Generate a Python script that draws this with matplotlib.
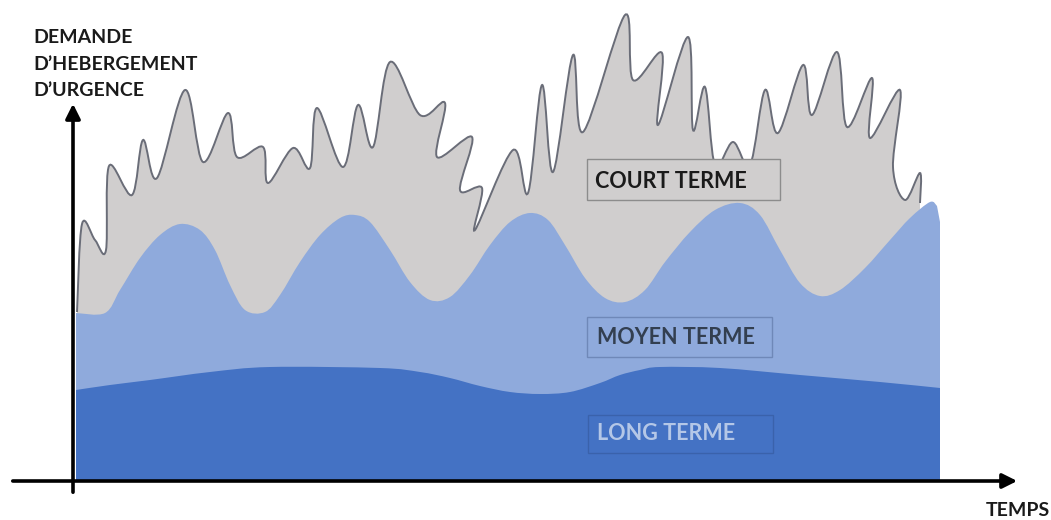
"""
Demande d'hebergement d'urgence : court, moyen et long terme
"""
import numpy as np
import matplotlib
matplotlib.use("Agg")
import matplotlib.pyplot as plt
from matplotlib.patches import Rectangle, PathPatch
from matplotlib.path import Path

plt.rcParams['font.family'] = ['Lato', 'DejaVu Sans']

# Court terme (gray zigzag) : time, demand
court_t = [4, 9, 22, 33, 36, 59, 70, 84, 112, 130, 155, 164, 190, 195, 220, 237,
           244, 270, 285, 300, 317, 347, 372, 364, 399, 387, 409, 402, 440, 455,
           469, 480, 500, 510, 552, 560, 589, 585, 615, 620, 632, 642, 660, 677,
           692, 705, 730, 739, 764, 774, 799, 797, 827, 820, 832, 847, 847]
court_d = [169, 257, 241, 231, 315, 286, 341, 303, 391, 319, 368, 324, 334, 298, 333, 313,
           373, 314, 376, 334, 419, 366, 378, 324, 344, 291, 293, 251, 331, 288,
           396, 309, 426, 349, 466, 401, 428, 356, 444, 351, 394, 316, 339, 316,
           391, 348, 416, 366, 429, 354, 403, 343, 391, 314, 281, 308, 278]

# Moyen terme (medium blue waves)
moyen_t = [3, 32, 47, 67, 87, 107, 127, 142, 157, 172, 192, 207, 227, 247, 267, 282,
           297, 317, 337, 357, 377, 397, 417, 437, 457, 475, 492, 512, 532, 552,
           572, 592, 617, 642, 667, 687, 707, 727, 747, 767, 792, 817, 837, 857,
           864]
moyen_d = [168, 168, 191, 223, 246, 257, 251, 231, 196, 171, 169, 186, 219, 246, 263, 266,
           259, 231, 199, 181, 184, 206, 236, 259, 268, 261, 236, 203, 183, 179,
           191, 219, 249, 271, 278, 266, 231, 198, 185, 191, 213, 241, 263, 279,
           275]
moyen_edge_t = [867, 867]
moyen_edge_d = [259, 156]

# Long terme (dark blue base)
long_t = [3, 37, 77, 137, 197, 307, 347, 377, 407, 437, 467, 497, 527, 547, 567,
          587, 647, 727, 807, 867]
long_d = [91, 96, 101, 109, 114, 113, 109, 103, 95, 89, 87, 89, 98, 106, 111,
          114, 113, 106, 99, 93]

labels = ["COURT TERME", "MOYEN TERME", "LONG TERME"]

GRAY = "#d0cece"
MID = "#8faadc"
DARK = "#4472c4"


def smooth(t, d):
    """Catmull-Rom curve through the points, as bezier vertices/codes."""
    p = np.column_stack([t, d]).astype(float)
    ext = np.vstack([p[0], p, p[-1]])
    verts = [p[0]]
    codes = [Path.MOVETO]
    for i in range(len(p) - 1):
        p0, p1, p2, p3 = ext[i], ext[i + 1], ext[i + 2], ext[i + 3]
        verts += [p1 + (p2 - p0) / 6, p2 - (p3 - p1) / 6, p2]
        codes += [Path.CURVE4] * 3
    return verts, codes


def area(ax, t, d, color, edge_t=(), edge_d=()):
    verts, codes = smooth(t, d)
    extra_t = list(edge_t)
    extra_d = list(edge_d)
    last_t = extra_t[-1] if extra_t else t[-1]
    for et, ed in zip(extra_t + [last_t, t[0]], extra_d + [0, 0]):
        verts.append((et, ed))
        codes.append(Path.LINETO)
    verts.append((t[0], d[0]))
    codes.append(Path.CLOSEPOLY)
    ax.add_patch(PathPatch(Path(verts, codes), facecolor=color, lw=0))


fig = plt.figure(figsize=(10.51, 5.20), dpi=100)
ax = fig.add_axes([0, 0, 1, 1])
ax.set_xlim(-73, 978)
ax.set_ylim(-39, 481)
ax.axis("off")

# Stacked areas, drawn back to front
area(ax, court_t, court_d, GRAY)
v, c = smooth(court_t, court_d)
ax.add_patch(PathPatch(Path(v, c), facecolor="none", edgecolor="#6a6d78", lw=1.4))
area(ax, moyen_t, moyen_d, MID, moyen_edge_t, moyen_edge_d)
area(ax, long_t, long_d, DARK)

# Label boxes
ax.add_patch(Rectangle((514, 281), 193, 41, facecolor=GRAY, edgecolor="#8c8c8c", lw=1))
ax.text(522, 300, labels[0], fontsize=15.5, fontweight="bold", color="#1a1a1a", va="center")
ax.add_patch(Rectangle((514, 124), 185, 40, facecolor=MID, edgecolor="#6f88b8", lw=1))
ax.text(524, 144, labels[1], fontsize=15.5, fontweight="bold", color="#333f50", va="center")
ax.add_patch(Rectangle((515, 28), 185, 38, facecolor=DARK, edgecolor="#3a62ab", lw=1))
ax.text(524, 47, labels[2], fontsize=15.5, fontweight="bold", color="#b4c7e7", va="center")

# Axes arrows
ax.annotate("", xy=(0, 380), xytext=(0, -14),
            arrowprops=dict(arrowstyle="-|>", lw=2.6, color="black", mutation_scale=22))
ax.annotate("", xy=(947, 0), xytext=(-63, 0),
            arrowprops=dict(arrowstyle="-|>", lw=2.6, color="black", mutation_scale=22))

# Axis titles
ax.text(-40, 417, "DEMANDE\nD\u2019HEBERGEMENT\nD\u2019URGENCE", fontsize=14,
        fontweight="bold", color="#1a1a1a", va="center", ha="left", linespacing=1.65)
ax.text(977, -30, "TEMPS", fontsize=14, fontweight="bold", color="#1a1a1a",
        va="center", ha="right")

plt.savefig("out.png", dpi=100)
